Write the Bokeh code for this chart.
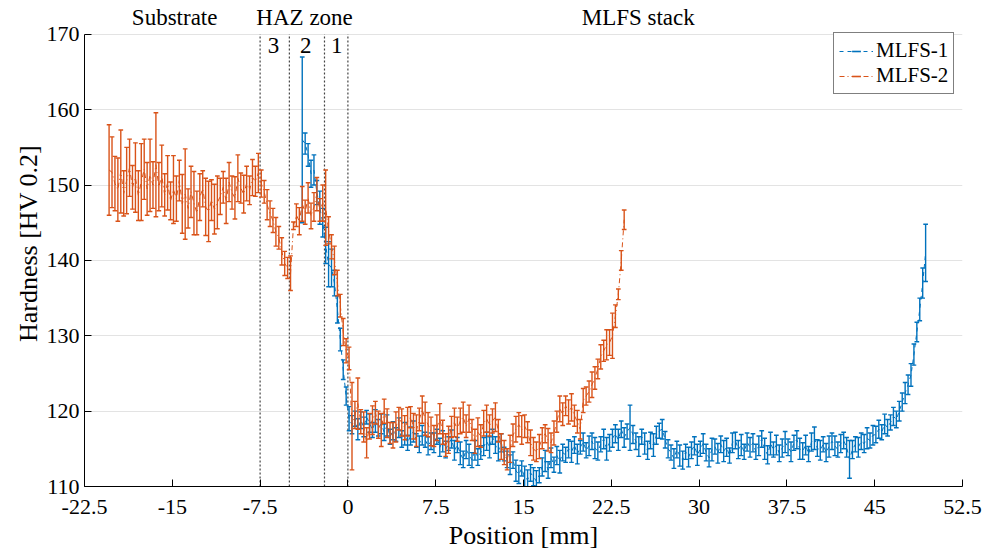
import numpy as np
from bokeh.plotting import figure
from bokeh.models import Label, Legend, LegendItem, FixedTicker, ColumnDataSource
from bokeh.embed import file_html
from bokeh.resources import INLINE

FONT = "Liberation Serif"
BLUE = "#0072BD"
ORANGE = "#D95319"

# ---------------- data ----------------
x_ticks = [-22.5, -15, -7.5, 0, 7.5, 15, 22.5, 30, 37.5, 45, 52.5]
x_tick_labels = ["-22.5", "-15", "-7.5", "0", "7.5", "15", "22.5", "30", "37.5", "45", "52.5"]
y_ticks = [110, 120, 130, 140, 150, 160, 170]

zone_bounds = [-7.5, -5, -2, 0]
region_names = ["Substrate", "HAZ zone", "MLFS stack"]
region_pos = [-14.8, -3.7, 24.8]
zone_numbers = ["3", "2", "1"]
zone_pos = [-6.35, -3.6, -0.95]

# MLFS-1: indentation positions start / spacing [mm]
mlfs1_start, mlfs1_step = -3.9, 0.25
mlfs1_hv = [
    156.0, 155.5, 154.0, 151.5, 152.0, 149.0, 147.0, 145.0, 142.0, 139.5, 139.0, 137.0, 133.5, 129.5, 125.5, 122.0, 119.0,
    118.2, 119.0, 117.6, 118.8, 117.9, 119.2, 118.4, 117.5, 118.7, 117.8, 118.3,
    117.2, 118.1, 116.6, 117.4, 116.9, 117.8, 116.3, 117.0, 115.8, 116.7, 117.3, 116.1, 115.6, 116.8, 116.2, 115.4, 116.0,
    115.8, 116.6, 115.2, 116.0, 114.9, 115.7, 116.3, 114.8, 115.5, 114.4, 113.6, 114.9, 114.2, 113.5, 114.8, 113.9, 114.5, 115.3,
    116.0, 115.2, 116.6, 115.5, 114.7, 115.8, 114.3, 113.6,
    112.9, 113.5, 112.1, 111.6, 112.4, 111.2, 110.9, 111.8, 111.3, 110.7, 111.5,
    112.6, 113.4, 112.2, 113.8, 112.9, 114.1, 113.3, 114.5,
    114.2, 115.0, 114.6, 115.5, 114.3, 115.2, 115.9, 114.8, 115.4, 116.0, 115.1, 114.7, 115.6, 116.3, 115.0, 115.8, 116.4,
    117.0, 116.2, 117.6, 116.5, 117.3, 117.8, 116.9,
    116.0, 115.3, 116.6, 115.7, 114.8, 116.1, 115.5, 116.8, 117.4, 117.6, 116.2,
    115.0, 114.5, 113.7, 114.9, 114.1, 113.5, 114.6, 113.9,
    114.8, 115.4, 114.2, 115.0, 115.7, 114.5, 113.8, 114.9, 115.3, 114.4, 115.6, 114.7, 115.2, 114.1, 115.8, 116.1, 114.9, 115.5, 114.6, 115.9, 115.2,
    115.8, 114.6, 115.4, 116.3, 115.0, 114.2, 115.7, 114.9, 115.5, 114.4, 115.1, 115.9,
    115.2, 114.6, 115.8, 116.2, 115.0, 114.7, 115.5, 114.3, 115.9, 116.4, 115.1, 114.8, 115.6, 114.5, 115.3, 116.0, 115.4, 114.9, 115.7, 116.1, 115.2,
    113.6,
    114.9, 115.6, 115.2, 116.0, 115.7, 116.4, 116.1, 116.8,
    116.9, 117.6, 117.2, 118.3, 117.8,
    118.5, 119.3, 118.9, 120.0,
    121.2, 122.4, 123.5, 124.8,
    127.5, 130.5, 133.5, 137.0, 141.0,
]
mlfs1_err = [
    11.0, 1.4, 1.5, 1.8, 2.0, 1.6, 2.2, 1.9, 2.4, 3.0, 2.5, 1.7, 1.8, 1.5, 1.3, 1.2, 1.6,
    1.2, 1.0, 1.4, 1.1, 1.3, 0.9, 1.2, 1.0, 1.5, 1.1, 1.3,
    1.1, 1.4, 1.0, 1.2, 0.9, 1.3, 1.1, 1.5, 1.0, 1.2, 1.4, 0.9, 1.1, 1.3, 1.0, 1.2, 1.1,
    1.3, 1.0, 1.2, 1.4, 1.1, 0.9, 1.2, 1.3, 1.0, 1.5, 1.1, 1.2, 1.4, 1.0, 1.3, 1.1, 0.9, 1.2,
    1.2, 1.4, 1.0, 1.1, 1.3, 1.2, 0.9, 1.1,
    1.3, 1.1, 1.4, 1.2, 1.0, 1.5, 1.3, 1.1, 1.2, 1.4, 1.0,
    1.2, 1.4, 1.1, 1.3, 1.0, 1.2, 1.5, 1.1,
    1.0, 1.2, 1.4, 1.1, 1.3, 0.9, 1.2, 1.0, 1.3, 1.1, 1.4, 1.2, 1.0, 1.3, 1.5, 1.1, 1.2,
    1.2, 1.4, 1.1, 1.3, 1.0, 3.0, 1.2,
    1.1, 1.3, 1.0, 1.4, 1.2, 1.1, 1.5, 1.2, 1.0, 1.3, 1.1,
    1.2, 1.0, 1.3, 1.1, 1.4, 1.2, 1.0, 1.3,
    1.1, 1.2, 1.4, 1.0, 1.3, 1.1, 1.2, 1.5, 1.0, 1.3, 1.1, 1.4, 1.2, 1.0, 1.3, 1.1, 1.2, 1.4, 1.0, 1.2, 1.3,
    1.2, 1.0, 1.3, 1.1, 1.4, 1.2, 1.5, 1.0, 1.3, 1.1, 1.2, 1.4,
    1.1, 1.3, 1.0, 1.2, 1.4, 1.1, 1.3, 1.0, 1.2, 1.5, 1.1, 1.3, 1.0, 1.2, 1.4, 1.1, 1.3, 1.0, 1.2, 1.1, 1.3,
    2.5,
    1.2, 1.0, 1.3, 1.1, 1.2, 1.4, 1.0, 1.3,
    1.1, 1.2, 1.0, 1.3, 1.1,
    1.0, 1.2, 1.1, 1.3,
    1.2, 1.4, 1.3, 1.5,
    1.4, 1.3, 1.5, 2.0, 3.8,
]

# MLFS-2
mlfs2_start, mlfs2_step = -20.4, 0.25
mlfs2_hv = [
    152.0, 151.7, 150.2, 149.4, 151.8, 148.9, 150.6, 152.3, 149.7, 151.0, 148.6, 150.4, 152.1, 149.5, 151.3, 150.0, 152.7,
    149.8, 151.2, 148.7, 150.3, 147.9, 149.4, 148.2, 150.6, 147.5, 148.8, 146.9, 149.1, 147.6, 146.3, 148.4, 149.5, 147.1, 146.5, 148.0, 146.8, 147.7,
    148.5, 149.7, 147.9, 150.4, 149.0, 148.3, 150.9, 149.6, 148.8, 150.2, 149.3, 151.0, 150.5, 151.6,
    150.2, 149.1, 147.4, 146.2, 145.3, 143.8, 143.0, 141.2, 139.6, 139.0, 138.3,
    144.6, 146.0, 145.2, 147.5, 146.4, 148.3, 145.9, 147.1, 148.8, 146.7, 147.6,
    147.0, 144.0, 141.8, 140.0, 137.0, 134.0, 130.5, 128.0, 127.0,
    118.0, 119.5, 121.0, 118.6, 117.9, 115.8, 118.0, 118.8, 119.8, 118.2,
    117.5, 120.0, 118.4, 117.1, 116.8, 117.9, 119.0, 118.5, 117.8, 118.6,
    119.2, 118.0, 117.4, 118.9, 120.2, 119.0, 118.2, 117.3, 116.7, 117.8,
    119.0, 117.2,
    115.5, 116.2, 117.9, 118.5, 117.6, 118.7, 119.2, 118.0, 119.0, 117.5,
    116.0, 117.2, 116.7, 118.4, 119.0, 118.1, 118.7, 119.2, 117.4, 115.3,
    114.5, 113.6, 115.0, 116.8, 117.6, 118.2, 117.5, 118.0, 117.2, 115.8,
    115.0, 114.6, 115.3, 116.4, 117.0, 116.2, 115.8, 117.1, 118.6, 120.3,
    119.6, 120.7, 119.9, 120.5, 119.4, 118.6, 117.6, 121.4, 122.0, 122.6,
    123.5, 124.4, 125.6, 127.2, 128.0, 128.8, 129.1, 130.0, 132.6, 135.5,
    140.0, 145.4,
]
mlfs2_err = [
    6.0, 4.7, 3.6, 4.2, 5.5, 3.0, 4.4, 3.8, 2.9, 4.6, 3.3, 5.1, 4.0, 3.5, 4.8, 3.1, 6.9,
    3.2, 4.1, 2.8, 3.6, 2.5, 4.5, 3.0, 2.7, 3.9, 6.0, 2.6, 3.4, 4.2, 2.9, 3.1, 2.4, 3.8, 4.0, 2.7, 3.3, 3.5,
    2.4, 2.1, 3.0, 2.6, 2.2, 2.8, 3.1, 2.0, 2.5, 2.3, 1.9, 2.4, 2.0, 2.6,
    1.8, 1.5, 2.0, 1.7, 1.6, 1.9, 1.5, 1.8, 1.6, 1.4, 2.3,
    0.5, 1.5, 1.8, 2.3, 1.6, 2.0, 1.7, 1.9, 2.2, 1.5, 2.4,
    5.0, 1.8, 1.6, 1.9, 1.7, 1.5, 1.8, 1.6, 1.5,
    5.8, 1.8, 3.4, 1.6, 2.0, 2.0, 1.7, 1.9, 1.5, 1.8,
    2.2, 1.6, 1.9, 1.4, 1.7, 2.0, 1.5, 1.8, 1.6, 1.9,
    1.4, 1.7, 2.1, 1.5, 1.8, 2.2, 1.6, 1.9, 1.4, 1.7,
    2.0, 1.6,
    1.5, 1.8, 1.4, 1.9, 1.6, 1.7, 2.0, 1.5, 1.8, 1.4,
    1.6, 1.9, 1.5, 1.7, 1.8, 1.4, 1.6, 1.9, 1.5, 1.7,
    1.6, 1.4, 1.8, 1.5, 1.7, 1.6, 1.9, 1.5, 1.4, 1.7,
    1.5, 1.3, 1.6, 1.4, 1.2, 1.5, 1.3, 1.6, 1.4, 1.7,
    1.5, 1.3, 1.6, 1.8, 1.4, 1.5, 1.3, 1.6, 1.2, 1.4,
    1.7, 1.5, 1.3, 1.6, 1.4, 2.0, 1.7, 3.0, 1.5, 0.7,
    1.3, 1.3,
]

# ---------------- figure ----------------
Y_BOT, Y_TOP_AXIS, Y_TOP_VIEW = 110, 170, 174.49
p = figure(width=989, height=552, x_range=(-22.5, 52.5), y_range=(Y_BOT, Y_TOP_VIEW),
           output_backend="svg", toolbar_location=None,
           min_border_left=84, min_border_right=27, min_border_top=0, min_border_bottom=64)
p.outline_line_color = None
p.background_fill_color = "white"
p.border_fill_color = "white"

p.xgrid.grid_line_color = None
p.ygrid.grid_line_color = "#e3e3e3"
p.ygrid.grid_line_width = 1
p.ygrid.ticker = FixedTicker(ticks=y_ticks)

p.xaxis.ticker = FixedTicker(ticks=x_ticks)
p.xaxis.major_label_overrides = {t: l for t, l in zip(x_ticks, x_tick_labels)}
p.yaxis.ticker = FixedTicker(ticks=y_ticks)
p.yaxis.bounds = (Y_BOT, Y_TOP_AXIS)
for ax in (p.xaxis[0], p.yaxis[0]):
    ax.major_tick_in = 7
    ax.major_tick_out = 0
    ax.minor_tick_in = 0
    ax.minor_tick_out = 0
    ax.axis_line_color = "black"
    ax.major_tick_line_color = "black"
    ax.major_label_text_font = FONT
    ax.major_label_text_font_size = "22px"
    ax.major_label_text_color = "black"
    ax.axis_label_text_font = FONT
    ax.axis_label_text_font_size = "26px"
    ax.axis_label_text_font_style = "normal"
    ax.axis_label_text_color = "black"
p.xaxis.axis_label = "Position [mm]"
p.yaxis.axis_label = "Hardness [HV 0.2]"
p.xaxis.major_label_standoff = 13
p.xaxis.axis_label_standoff = 4
p.yaxis.major_label_standoff = 5
p.yaxis.axis_label_standoff = 1

# zone boundaries (dotted, from axis bottom to top of axes box)
p.segment(x0=zone_bounds, y0=[Y_BOT] * len(zone_bounds), x1=zone_bounds,
          y1=[Y_TOP_AXIS] * len(zone_bounds), line_color="#444444",
          line_dash="2 2", line_width=1.2)


def series(start, step, hv, err, color, dash):
    y = np.array(hv, dtype=float)
    e = np.array(err, dtype=float)
    x = start + step * np.arange(len(y))
    cap = 0.2
    src = ColumnDataSource(dict(x=x, lo=y - e, hi=y + e, cl=x - cap, cr=x + cap))
    p.segment(x0="x", y0="lo", x1="x", y1="hi", source=src, line_color=color, line_width=1.4)
    p.segment(x0="cl", y0="hi", x1="cr", y1="hi", source=src, line_color=color, line_width=1.4)
    p.segment(x0="cl", y0="lo", x1="cr", y1="lo", source=src, line_color=color, line_width=1.4)
    ln = p.line(x, y, line_color=color, line_width=1.0, line_dash=dash)
    mk = p.scatter([-100], [100], marker="dash", angle=np.pi / 2, size=14,
                   line_color=color, line_width=1.6, fill_color=color)
    return ln, mk


l1, m1 = series(mlfs1_start, mlfs1_step, mlfs1_hv, mlfs1_err, BLUE, "4 4")
l2, m2 = series(mlfs2_start, mlfs2_step, mlfs2_hv, mlfs2_err, ORANGE, "5 3 1 3")

legend = Legend(items=[LegendItem(label="MLFS-1", renderers=[l1, m1]),
                       LegendItem(label="MLFS-2", renderers=[l2, m2])],
                location=(749, 392))
legend.margin = 0
legend.padding = 5
legend.spacing = 0
legend.glyph_width = 34
legend.glyph_height = 22
legend.label_height = 22
legend.label_standoff = 3
legend.label_text_font = FONT
legend.label_text_font_size = "21px"
legend.label_text_color = "black"
legend.border_line_color = "black"
legend.border_line_width = 1
legend.background_fill_color = "white"
legend.background_fill_alpha = 1.0
p.add_layout(legend)

for name, xp in zip(region_names, region_pos):
    p.add_layout(Label(x=xp, y=Y_TOP_AXIS, y_offset=4, text=name, text_align="center",
                       text_baseline="bottom", text_font=FONT, text_font_size="23px",
                       text_color="black"))
for name, xp in zip(zone_numbers, zone_pos):
    p.add_layout(Label(x=xp, y=168.5, text=name, text_align="center",
                       text_baseline="middle", text_font=FONT, text_font_size="23px",
                       text_color="black"))

open("out.html", "w").write(file_html(p, INLINE))
